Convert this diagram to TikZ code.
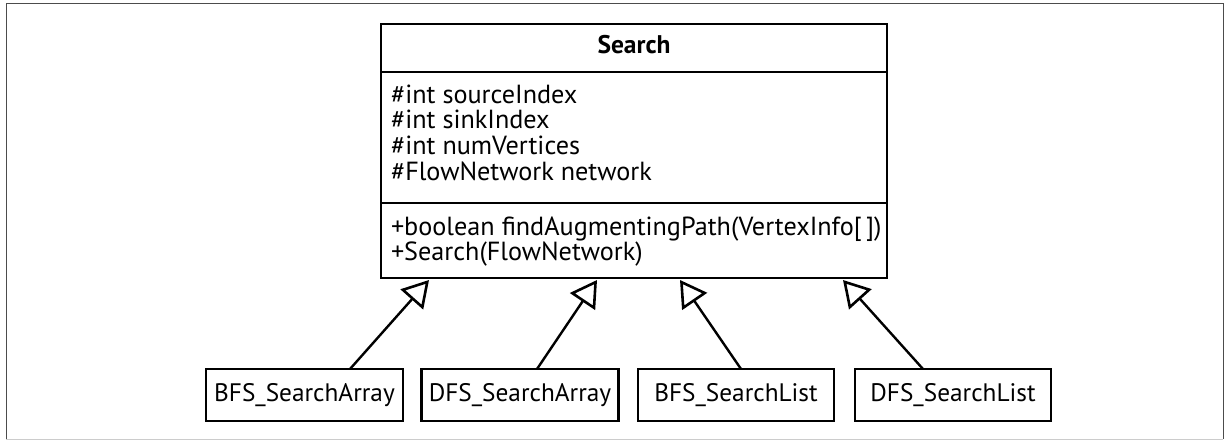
\documentclass[tikz,border=0pt]{standalone}
\usepackage{fontspec}
\setmainfont{PT Sans}
\usetikzlibrary{arrows.meta,calc}
\begin{document}
\begin{tikzpicture}[x=1pt,y=-1pt,
  every node/.style={inner sep=0pt,outer sep=0pt},
  txt/.style={font=\fontsize{26.2}{25.5}\selectfont, anchor=base west},
  cls/.style={draw, line width=2.5pt, minimum width=197pt, minimum height=52pt,
              font=\fontsize{25.3}{25.5}\selectfont},
  inh/.style={line width=2.4pt, -{Triangle[open, length=26pt, width=30pt, line width=2.6pt]}}
]
\useasboundingbox (0,0) rectangle (1225,440);
% outer frame
\draw[black!70, line width=1pt] (6,439) -- (6,3.5) -- (1223,3.5) -- (1223,439);
\draw[black!20, line width=1pt] (6,439) -- (1223,439);

% Search class
\node[draw, line width=2.5pt, minimum width=506pt, minimum height=254pt] (search) at (634,151) {};
\coordinate (hl) at (381,72);  \coordinate (hr) at (887,72);
\coordinate (ml) at (381,203); \coordinate (mr) at (887,203);
\draw[line width=2.5pt] (hl) -- (hr);
\draw[line width=1.8pt] (ml) -- (mr);
\node[font=\fontsize{25.5}{25.5}\selectfont\bfseries, anchor=base] (title) at (634,53) {Search};
\node[txt] (a1) at (391,103) {\#int sourceIndex};
\node[txt] (a2) at (391,128.5) {\#int sinkIndex};
\node[txt] (a3) at (391,154) {\#int numVertices};
\node[txt] (a4) at (391,180) {\#FlowNetwork network};
\node[txt] (m1) at (391,235) {+boolean findAugmentingPath(VertexInfo[\,])};
\node[txt] (m2) at (391,260) {+Search(FlowNetwork)};

% subclasses
\node[cls] (bfsa) at (304.5,395) {BFS\_SearchArray};
\node[cls] (dfsa) at (520,395) {DFS\_SearchArray};
\node[cls, minimum width=196pt] (bfsl) at (736,395) {BFS\_SearchList};
\node[cls, minimum width=196pt] (dfsl) at (953,395) {DFS\_SearchList};

% generalisation arrows
\draw[inh] ($(bfsa.north)+(45.5,0)$) -- ($(search.south west)+(48,2)$);
\draw[inh] ($(dfsa.north)+(17,0)$) -- ($(search.south west)+(216,2)$);
\draw[inh] ($(bfsl.north)+(5,0)$) -- ($(search.south west)+(299,2)$);
\draw[inh] ($(dfsl.north)+(-30,0)$) -- ($(search.south west)+(462,2)$);
\end{tikzpicture}
\end{document}
